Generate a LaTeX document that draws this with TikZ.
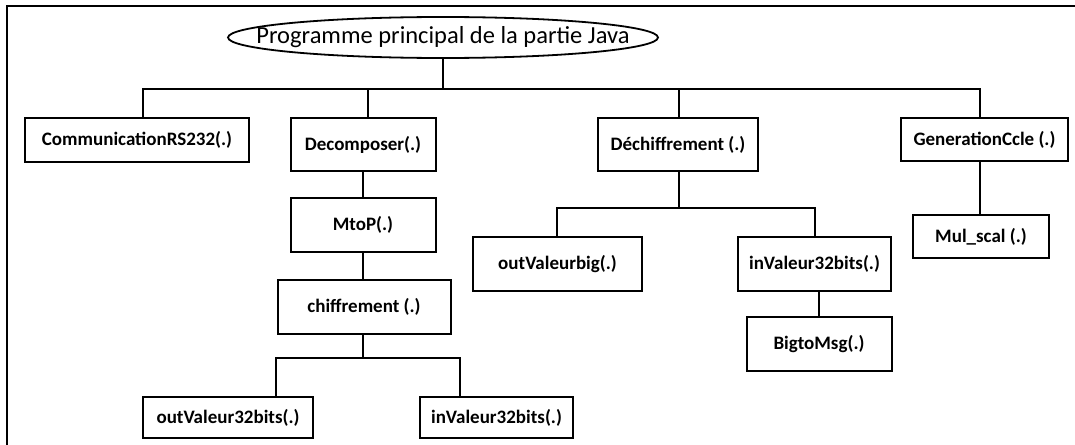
\documentclass[tikz,border=0pt]{standalone}
\usepackage{fontspec}
\setmainfont{Carlito}
\usetikzlibrary{shapes.geometric}

\tikzset{
  x=1pt, y=-1pt,
  wire/.style={line width=2pt, line cap=rect},
  fnbox/.style={draw, line width=2pt, inner sep=0pt, anchor=center,
    font=\fontsize{19}{22}\selectfont\bfseries},
  rootshape/.style={draw, ellipse, line width=1.8pt, inner sep=0pt},
  roottext/.style={inner sep=0pt, font=\fontsize{24.5}{28}\selectfont}
}

\begin{document}
\begin{tikzpicture}
\useasboundingbox (0,0) rectangle (1075,444);

% open frame: top and left edges
\draw[line width=2.2pt] (7,446) -- (7,6) -- (1077,6);

% main program
\node[rootshape, minimum width=430pt, minimum height=41pt] (root) at (443,37.5) {};
\node[roottext] (title) at (root.center) {Programme principal de la partie Java};

% first level
\node[fnbox, minimum width=224pt, minimum height=44pt] (comm)   at (137,140)   {CommunicationRS232(.)};
\node[fnbox, minimum width=145pt, minimum height=53pt] (decomp) at (363,144.5) {Decomposer(.)};
\node[fnbox, minimum width=160pt, minimum height=53pt] (dechif) at (678,144.5) {Déchiffrement (.)};
\node[fnbox, minimum width=167pt, minimum height=43pt] (gen)    at (984.5,139.5) {GenerationCcle (.)};

% Decomposer chain
\node[fnbox, minimum width=145pt, minimum height=54pt] (mtop)   at (363,225) {MtoP(.)};
\node[fnbox, minimum width=173pt, minimum height=54pt] (chif)   at (364,307) {chiffrement (.)};
\node[fnbox, minimum width=170pt, minimum height=41pt] (outv)   at (228,417.5) {outValeur32bits(.)};
\node[fnbox, minimum width=153pt, minimum height=41pt] (inva)   at (496.5,417.5) {inValeur32bits(.)};

% Dechiffrement chain
\node[fnbox, minimum width=169pt, minimum height=54pt] (outbig) at (557.5,264) {outValeurbig(.)};
\node[fnbox, minimum width=153pt, minimum height=54pt] (invb)   at (814.5,264) {inValeur32bits(.)};
\node[fnbox, minimum width=145pt, minimum height=54pt] (bigmsg) at (819,344) {BigtoMsg(.)};

% key generation chain
\node[fnbox, minimum width=136pt, minimum height=43pt] (mul)    at (981,236.5) {Mul\_scal (.)};

% junction points
\coordinate (top)  at (443,89);
\coordinate (tl)   at (143,89);
\coordinate (td)   at (368,89);
\coordinate (tc)   at (679,89);
\coordinate (tr)   at (980,89);
\coordinate (cl)   at (276,358);
\coordinate (cm)   at (363,358);
\coordinate (cr)   at (460,358);
\coordinate (dl)   at (557,208);
\coordinate (dm)   at (679,208);
\coordinate (dr)   at (815,208);

% connectors
\draw[wire] (root.south) -- (top);
\draw[wire] (tl) -- (tr);
\draw[wire] (tl) -- (tl |- comm.north);
\draw[wire] (td) -- (td |- decomp.north);
\draw[wire] (tc) -- (tc |- dechif.north);
\draw[wire] (tr) -- (tr |- gen.north);

\draw[wire] (decomp.south) -- (mtop.north);
\draw[wire] (cm |- mtop.south) -- (cm |- chif.north);
\draw[wire] (cm |- chif.south) -- (cm);
\draw[wire] (cl) -- (cr);
\draw[wire] (cl) -- (cl |- outv.north);
\draw[wire] (cr) -- (cr |- inva.north);

\draw[wire] (dm |- dechif.south) -- (dm);
\draw[wire] (dl) -- (dr);
\draw[wire] (dl) -- (dl |- outbig.north);
\draw[wire] (dr) -- (dr |- invb.north);
\draw[wire] (bigmsg.north) -- (bigmsg.north |- invb.south);

\draw[wire] (tr |- gen.south) -- (tr |- mul.north);
\end{tikzpicture}
\end{document}
